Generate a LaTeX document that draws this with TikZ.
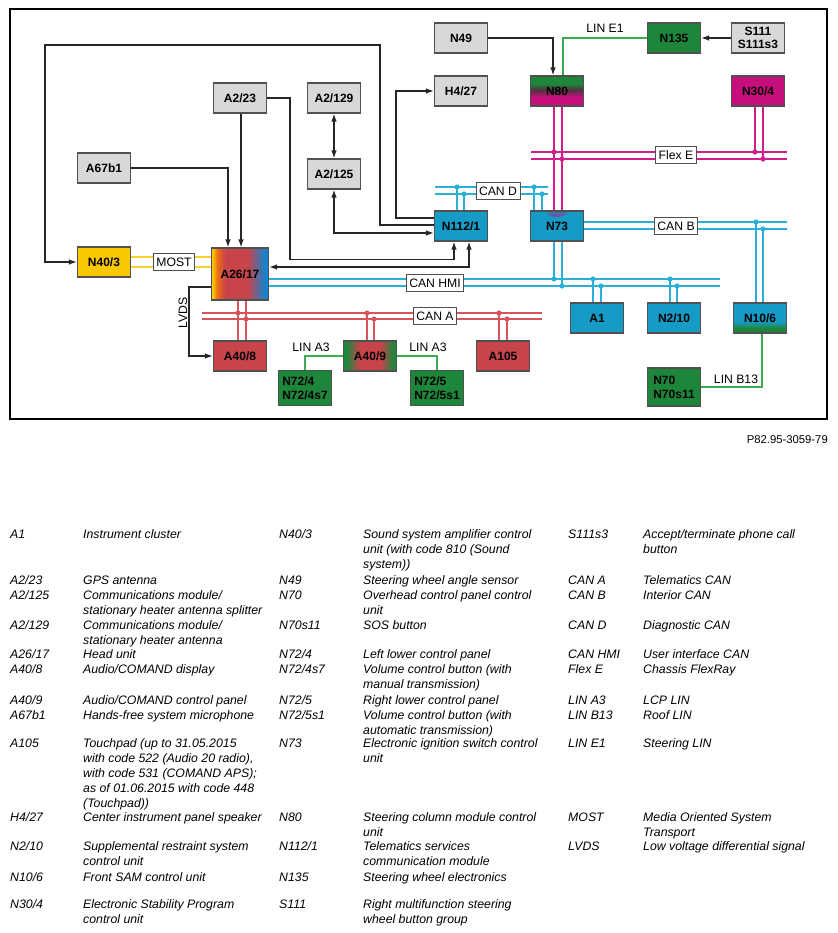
\documentclass[tikz,border=0pt]{standalone}
\usepackage{fontspec}
\setmainfont{Liberation Sans}
\usetikzlibrary{arrows.meta}

\definecolor{boxgray}{RGB}{216,216,216}
\definecolor{edgegray}{RGB}{80,80,80}
\definecolor{cancyan}{RGB}{22,154,198}
\definecolor{cyanline}{RGB}{40,176,216}
\definecolor{canred}{RGB}{198,68,74}
\definecolor{redline}{RGB}{214,84,90}
\definecolor{lingreen}{RGB}{30,134,58}
\definecolor{greenline}{RGB}{62,170,80}
\definecolor{flexmag}{RGB}{198,14,124}
\definecolor{magline}{RGB}{210,30,140}
\definecolor{mostyellow}{RGB}{250,200,0}
\definecolor{yellowline}{RGB}{248,208,50}

\pgfdeclarehorizontalshading{headunit}{100bp}{color(0bp)=(mostyellow); color(26bp)=(mostyellow); color(30bp)=(orange!70!canred); color(37bp)=(canred); color(57bp)=(canred); color(72bp)=(cancyan!85!blue); color(100bp)=(cancyan!85!blue)}
\pgfdeclarehorizontalshading{ctrlpanel}{100bp}{color(0bp)=(lingreen); color(28bp)=(lingreen); color(40bp)=(canred); color(60bp)=(canred); color(72bp)=(lingreen); color(100bp)=(lingreen)}
\pgfdeclareverticalshading{steercol}{100bp}{color(0bp)=(flexmag); color(40bp)=(flexmag); color(52bp)=(flexmag!50!lingreen!70!black); color(62bp)=(lingreen); color(100bp)=(lingreen)}
\pgfdeclareverticalshading{frontsam}{100bp}{color(0bp)=(lingreen); color(33bp)=(lingreen); color(44bp)=(cancyan); color(100bp)=(cancyan)}

\tikzset{
  unit/.style={draw=edgegray, line width=1.1pt, minimum width=53pt, minimum height=30pt,
    inner sep=1pt, font=\bfseries\fontsize{12}{13}\selectfont},
  sensor/.style={unit, fill=boxgray},
  cyanunit/.style={unit, fill=cancyan},
  redunit/.style={unit, fill=canred},
  greenunit/.style={unit, fill=lingreen},
  magunit/.style={unit, fill=flexmag},
  twoline/.style={align=left, font=\bfseries\fontsize{12}{14}\selectfont},
  busname/.style={draw=edgegray, fill=white, line width=0.8pt, inner xsep=3pt, inner ysep=2pt,
    minimum height=17pt, font=\fontsize{12.2}{13}\selectfont},
  linname/.style={inner sep=0pt, font=\fontsize{12.2}{13}\selectfont},
  cyanbus/.style={cyanline, line width=1.7pt},
  redbus/.style={redline, line width=1.7pt},
  magbus/.style={magline, line width=1.7pt},
  mostbus/.style={yellowline, line width=1.7pt},
  wire/.style={black!85, line width=1.3pt},
  linwire/.style={greenline, line width=1.2pt},
  legend/.style={anchor=north west, inner sep=0pt, align=left, font=\itshape\fontsize{12.3}{15}\selectfont}
}

\newcommand{\legentry}[6]{%
  \node[legend] (#1c) at (#2,#4-6) {\strut #5};
  \node[legend] (#1d) at (#3,#4-6) {\strut #6};}

\begin{document}
\begin{tikzpicture}[x=1pt,y=-1pt,>={Latex[length=8pt,width=5.5pt]}]
\useasboundingbox (0,0) rectangle (837,933);
\draw[line width=1.2pt] (10,9) rectangle (827,419);

\node[sensor] (a2x23) at (240,98) {A2/23};
\node[sensor] (a2x129) at (334,98) {A2/129};
\node[sensor] (a67) at (104,168) {A67b1};
\node[sensor] (a2x125) at (334,174) {A2/125};
\node[sensor] (n49) at (461,38) {N49};
\node[sensor] (h4) at (461,91) {H4/27};
\node[unit, shading=steercol] (n80) at (557,91) {N80};
\node[greenunit] (n135) at (674,38) {N135};
\node[sensor, align=center] (s111) at (758,38) {S111\\S111s3};
\node[magunit] (n30) at (758,91) {N30/4};
\node[cyanunit] (n112) at (461,226) {N112/1};
\node[cyanunit, path picture={\shade[inner color=flexmag, outer color=cancyan]
  ([yshift=-1pt]path picture bounding box.north) ellipse (10pt and 5pt);}] (n73) at (557,226) {N73};
\node[cyanunit] (a1) at (597,318) {A1};
\node[cyanunit] (n2) at (674,318) {N2/10};
\node[unit, shading=frontsam] (n10) at (760,318) {N10/6};
\node[unit, fill=mostyellow] (n40) at (104,262) {N40/3};
\node[unit, shading=headunit, minimum width=57pt, minimum height=52pt] (a26) at (240,274) {A26/17};
\node[redunit] (a40x8) at (240,356) {A40/8};
\node[unit, shading=ctrlpanel] (a40x9) at (370,356) {A40/9};
\node[redunit] (a105) at (503,356) {A105};
\node[greenunit, twoline, minimum height=35pt] (n72x4) at (305,388) {N72/4\\N72/4s7};
\node[greenunit, twoline, minimum height=35pt] (n72x5) at (437,388) {N72/5\\N72/5s1};
\node[greenunit, twoline, minimum height=38pt] (n70) at (674,387) {N70\\N70s11};

\coordinate (loopcorner) at (45,45);
\coordinate (hmiA) at (720,279);
\coordinate (hmiB) at (720,286);
\coordinate (canaW1) at (202,313);
\coordinate (canaE1) at (542,313);
\coordinate (canaW2) at (202,319);
\coordinate (canaE2) at (542,319);
\coordinate (canbA) at (787,222);
\coordinate (canbB) at (787,229);
\coordinate (flexW1) at (531,152);
\coordinate (flexE1) at (787,152);
\coordinate (flexW2) at (531,159);
\coordinate (flexE2) at (787,159);
\coordinate (candW1) at (435,187);
\coordinate (candE1) at (548,187);
\coordinate (candW2) at (435,194);
\coordinate (candE2) at (548,194);

% buses
\draw[mostbus] ([yshift=5pt]n40.east) -- ([yshift=5pt]n40.east -| a26.west);
\draw[mostbus] ([yshift=-5pt]n40.east) -- ([yshift=-5pt]n40.east -| a26.west);
\draw[cyanbus] (a26.east |- hmiA) -- (hmiA);
\draw[cyanbus] (a26.east |- hmiB) -- (hmiB);
\draw[redbus] (canaW1) -- (canaE1);
\draw[redbus] (canaW2) -- (canaE2);
\draw[cyanbus] (n73.east |- canbA) -- (canbA);
\draw[cyanbus] (n73.east |- canbB) -- (canbB);
\draw[magbus] (flexW1) -- (flexE1);
\draw[magbus] (flexW2) -- (flexE2);
\draw[cyanbus] (candW1) -- (candE1);
\draw[cyanbus] (candW2) -- (candE2);

\foreach \n/\s/\a/\b in {n73/south/-3/5, a1/north/-4/4, n2/north/-4/3}{
  \draw[cyanbus] ([xshift=\a pt]\n.\s) -- ([xshift=\a pt]\n.\s |- hmiA);
  \draw[cyanbus] ([xshift=\b pt]\n.\s) -- ([xshift=\b pt]\n.\s |- hmiB);
  \fill[cyanline] ([xshift=\a pt]\n.\s |- hmiA) circle (2.6pt);
  \fill[cyanline] ([xshift=\b pt]\n.\s |- hmiB) circle (2.6pt);
}
\foreach \n/\a/\b in {n112/-4/3, n73/-23/-15}{
  \draw[cyanbus] ([xshift=\a pt]\n.north) -- ([xshift=\a pt]\n.north |- candW1);
  \draw[cyanbus] ([xshift=\b pt]\n.north) -- ([xshift=\b pt]\n.north |- candW2);
  \fill[cyanline] ([xshift=\a pt]\n.north |- candW1) circle (2.6pt);
  \fill[cyanline] ([xshift=\b pt]\n.north |- candW2) circle (2.6pt);
}
\draw[cyanbus] ([xshift=-4pt]n10.north) -- ([xshift=-4pt]n10.north |- canbA);
\draw[cyanbus] ([xshift=3pt]n10.north) -- ([xshift=3pt]n10.north |- canbB);
\fill[cyanline] ([xshift=-4pt]n10.north |- canbA) circle (2.6pt);
\fill[cyanline] ([xshift=3pt]n10.north |- canbB) circle (2.6pt);

\foreach \n/\a/\b in {a40x9/-3/4, a105/-4/4}{
  \draw[redbus] ([xshift=\a pt]\n.north) -- ([xshift=\a pt]\n.north |- canaW1);
  \draw[redbus] ([xshift=\b pt]\n.north) -- ([xshift=\b pt]\n.north |- canaW2);
  \fill[redline] ([xshift=\a pt]\n.north |- canaW1) circle (2.6pt);
  \fill[redline] ([xshift=\b pt]\n.north |- canaW2) circle (2.6pt);
}
\draw[redbus] ([xshift=-2pt]a26.south) -- ([xshift=-2pt]a40x8.north);
\draw[redbus] ([xshift=6pt]a26.south) -- ([xshift=6pt]a40x8.north);
\fill[redline] ([xshift=-2pt]a26.south |- canaW1) circle (2.6pt);
\fill[redline] ([xshift=6pt]a26.south |- canaW2) circle (2.6pt);

\draw[magbus] ([xshift=-3pt]n80.south) -- ([xshift=-3pt]n73.north);
\draw[magbus] ([xshift=5pt]n80.south) -- ([xshift=5pt]n73.north);
\fill[magline] ([xshift=-3pt]n80.south |- flexW1) circle (2.6pt);
\fill[magline] ([xshift=5pt]n80.south |- flexW2) circle (2.6pt);
\draw[magbus] ([xshift=-3pt]n30.south) -- ([xshift=-3pt]n30.south |- flexW1);
\draw[magbus] ([xshift=5pt]n30.south) -- ([xshift=5pt]n30.south |- flexW2);
\fill[magline] ([xshift=-3pt]n30.south |- flexW1) circle (2.6pt);
\fill[magline] ([xshift=5pt]n30.south |- flexW2) circle (2.6pt);

% wires
\draw[wire, ->] (a67) -| ([xshift=-12pt]a26.north);
\draw[wire, ->] ([xshift=1pt]a2x23.south) -- ([xshift=1pt]a26.north);
\draw[wire, ->] (a2x23.east) -- ++(23,0) |- ([xshift=-7pt,yshift=-18pt]n112.south) -- ([xshift=-7pt]n112.south);
\draw[wire, <->] ([yshift=7pt]a26.east) -| ([xshift=8pt]n112.south);
\draw[wire, <->] (a2x125) |- ([yshift=-7pt]n112.west);
\draw[wire, <->] (a2x129) -- (a2x125);
\draw[wire, ->] ([yshift=8pt]n112.west) -- ++(-38,0) |- (h4);
\draw[wire, ->] ([yshift=1pt]n112.west) -- ++(-54,0) |- (loopcorner) |- (n40);
\draw[wire, ->] ([yshift=-13pt]a26.west) -- ++(-22,0) |- (a40x8);
\draw[wire, ->] (n49) -| ([xshift=-4pt]n80.north);
\draw[wire, ->] (s111) -- (n135);

\draw[linwire] ([xshift=6pt]n80.north) |- (n135);
\draw[linwire] (a40x9) -| (n72x4);
\draw[linwire] (a40x9) -| (n72x5);
\draw[linwire] ([xshift=2pt]n10.south) |- (n70);

\node[busname] (most) at (174,262) {MOST};
\node[busname] (canhmi) at (435,283) {CAN HMI};
\node[busname] (cana) at (435,316) {CAN A};
\node[busname] (canb) at (676,226) {CAN B};
\node[busname] (flexe) at (676,155) {Flex E};
\node[busname] (cand) at (498,191) {CAN D};
\node[linname] (line1) at (605,28) {LIN E1};
\node[linname] (lina3l) at (311,347) {LIN A3};
\node[linname] (lina3r) at (428,347) {LIN A3};
\node[linname] (linb13) at (736,379) {LIN B13};
\node[linname, rotate=90] (lvds) at (183,313) {LVDS};

\node[anchor=east, inner sep=0pt, font=\fontsize{11.3}{12}\selectfont] (figref) at (828,440) {P82.95-3059-79};

\legentry{la1}{10}{83}{534}{A1}{Instrument cluster}
\legentry{la223}{10}{83}{580}{A2/23}{GPS antenna}
\legentry{la2125}{10}{83}{595}{A2/125}{Communications module/\\stationary heater antenna splitter}
\legentry{la2129}{10}{83}{625}{A2/129}{Communications module/\\stationary heater antenna}
\legentry{la2617}{10}{83}{654}{A26/17}{Head unit}
\legentry{la408}{10}{83}{669}{A40/8}{Audio/COMAND display}
\legentry{la409}{10}{83}{700}{A40/9}{Audio/COMAND control panel}
\legentry{la67}{10}{83}{715}{A67b1}{Hands-free system microphone}
\legentry{la105}{10}{83}{743}{A105}{Touchpad (up to 31.05.2015\\with code 522 (Audio 20 radio),\\with code 531 (COMAND APS);\\as of 01.06.2015 with code 448\\(Touchpad))}
\legentry{lh427}{10}{83}{817}{H4/27}{Center instrument panel speaker}
\legentry{ln210}{10}{83}{846}{N2/10}{Supplemental restraint system\\control unit}
\legentry{ln106}{10}{83}{877}{N10/6}{Front SAM control unit}
\legentry{ln304}{10}{83}{904}{N30/4}{Electronic Stability Program\\control unit}

\legentry{ln403}{279}{363}{534}{N40/3}{Sound system amplifier control\\unit (with code 810 (Sound\\system))}
\legentry{ln49}{279}{363}{580}{N49}{Steering wheel angle sensor}
\legentry{ln70}{279}{363}{595}{N70}{Overhead control panel control\\unit}
\legentry{ln70s}{279}{363}{625}{N70s11}{SOS button}
\legentry{ln724}{279}{363}{654}{N72/4}{Left lower control panel}
\legentry{ln724s}{279}{363}{669}{N72/4s7}{Volume control button (with\\manual transmission)}
\legentry{ln725}{279}{363}{700}{N72/5}{Right lower control panel}
\legentry{ln725s}{279}{363}{715}{N72/5s1}{Volume control button (with\\automatic transmission)}
\legentry{ln73}{279}{363}{743}{N73}{Electronic ignition switch control\\unit}
\legentry{ln80}{279}{363}{817}{N80}{Steering column module control\\unit}
\legentry{ln1121}{279}{363}{846}{N112/1}{Telematics services\\communication module}
\legentry{ln135}{279}{363}{877}{N135}{Steering wheel electronics}
\legentry{ls111}{279}{363}{904}{S111}{Right multifunction steering\\wheel button group}

\legentry{ls111s}{568}{643}{534}{S111s3}{Accept/terminate phone call\\button}
\legentry{lcana}{568}{643}{580}{CAN A}{Telematics CAN}
\legentry{lcanb}{568}{643}{595}{CAN B}{Interior CAN}
\legentry{lcand}{568}{643}{625}{CAN D}{Diagnostic CAN}
\legentry{lcanhmi}{568}{643}{654}{CAN HMI}{User interface CAN}
\legentry{lflexe}{568}{643}{669}{Flex E}{Chassis FlexRay}
\legentry{llina3}{568}{643}{700}{LIN A3}{LCP LIN}
\legentry{llinb13}{568}{643}{715}{LIN B13}{Roof LIN}
\legentry{lline1}{568}{643}{743}{LIN E1}{Steering LIN}
\legentry{lmost}{568}{643}{817}{MOST}{Media Oriented System\\Transport}
\legentry{llvds}{568}{643}{846}{LVDS}{Low voltage differential signal}
\end{tikzpicture}
\end{document}
